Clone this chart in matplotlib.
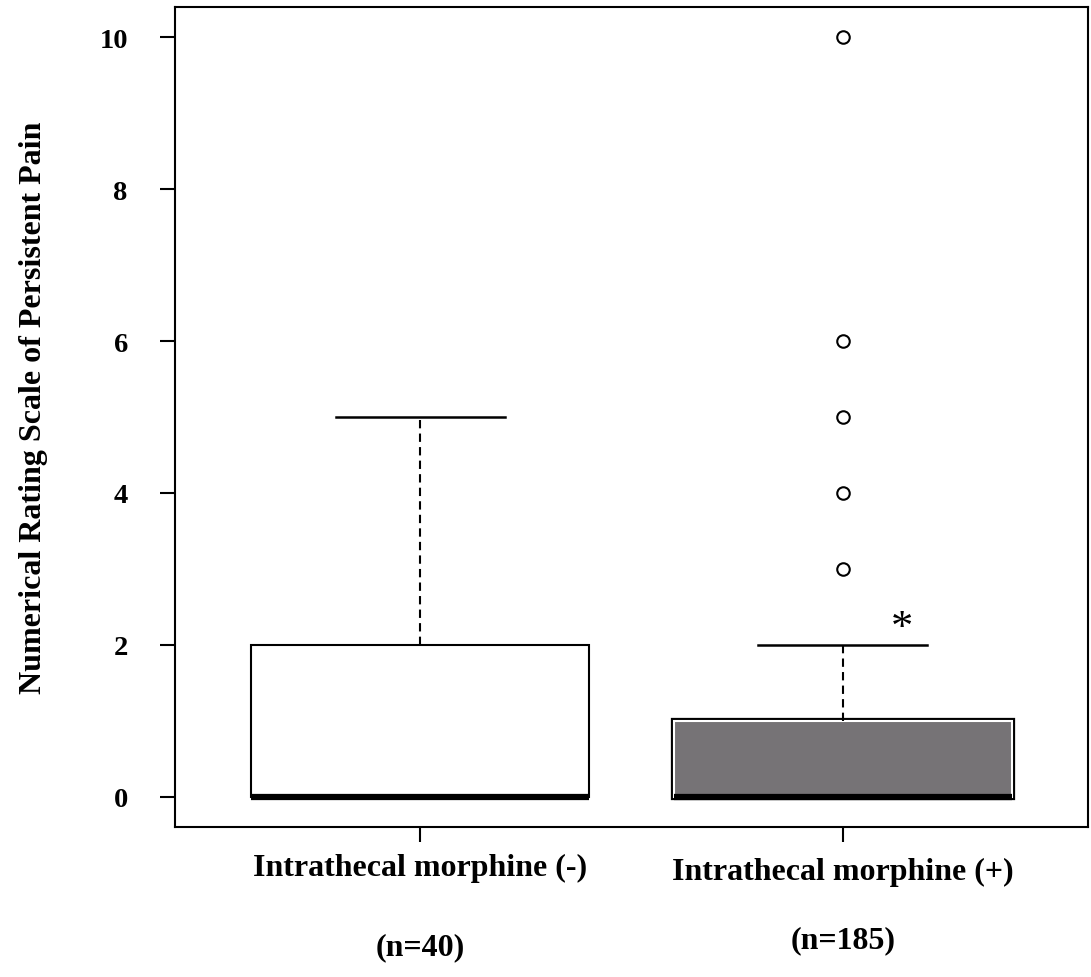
import numpy as np
import matplotlib.pyplot as plt
import matplotlib.patheffects as pe

plt.rcParams['font.family'] = ['Liberation Serif', 'DejaVu Serif']
plt.rcParams['font.weight'] = 'bold'

# Data
groups = ['Intrathecal morphine (-)', 'Intrathecal morphine (+)']
n_labels = ['(n=40)', '(n=185)']
q1 = [0, 0]
med = [0, 0]
q3 = [2, 1]
whis_lo = [0, 0]
whis_hi = [5, 2]
fliers = [[], [3, 4, 5, 6, 10]]
box_colors = ['white', '#767376']
y_ticks = [0, 2, 4, 6, 8, 10]
star_pos = (2.14, 2.22)

fig = plt.figure(figsize=(10.91, 9.78), dpi=100)
ax = fig.add_axes([175 / 1091, 1 - 828 / 978, 913 / 1091, 820 / 978])

stats = []
for i in range(len(groups)):
    stats.append({'med': med[i], 'q1': q1[i], 'q3': q3[i],
                  'whislo': whis_lo[i], 'whishi': whis_hi[i],
                  'fliers': np.array(fliers[i])})

bp = ax.bxp(stats, positions=[1, 2], widths=0.8, patch_artist=True,
            capwidths=0.4,
            boxprops=dict(linewidth=1.5, edgecolor='black'),
            medianprops=dict(color='black', linewidth=4.5, solid_capstyle='butt'),
            whiskerprops=dict(color='black', linewidth=1.5, linestyle=(0, (4, 2.5))),
            capprops=dict(color='black', linewidth=1.8),
            flierprops=dict(marker='o', markersize=9, markerfacecolor='white',
                            markeredgecolor='black', markeredgewidth=1.5))

for patch, c in zip(bp['boxes'], box_colors):
    patch.set_facecolor(c)
# grey box: black outline with a thin white inner line
bp['boxes'][1].set_edgecolor('white')
bp['boxes'][1].set_linewidth(1.5)
bp['boxes'][1].set_path_effects([pe.Stroke(linewidth=4.5, foreground='black'), pe.Normal()])

ax.set_xlim(0.42, 2.58)
ax.set_ylim(-0.4, 10.4)
ax.set_yticks(y_ticks)
ax.set_yticklabels([str(v) for v in y_ticks], fontsize=20.5, fontweight='bold')
ax.set_xticks([1, 2])
ax.set_xticklabels(['', ''])
ax.tick_params(axis='both', length=11, width=1.5, direction='out')
ax.tick_params(axis='y', pad=23)
for s in ax.spines.values():
    s.set_linewidth(1.5)

trans = ax.get_xaxis_transform()
ax.text(1.0, -0.049, groups[0], transform=trans, ha='center', va='center',
        fontsize=23, fontweight='bold')
ax.text(2.0, -0.054, groups[1], transform=trans, ha='center', va='center',
        fontsize=23, fontweight='bold')
ax.text(1.0, -0.146, n_labels[0], transform=trans, ha='center', va='center',
        fontsize=23, fontweight='bold')
ax.text(2.0, -0.137, n_labels[1], transform=trans, ha='center', va='center',
        fontsize=23, fontweight='bold')

ax.text(star_pos[0], star_pos[1], '*', ha='center', va='center',
        fontsize=32, fontweight='normal')

ax.text(-0.155, 0.512, 'Numerical Rating Scale of Persistent Pain',
        transform=ax.transAxes, rotation=90, ha='center', va='center',
        fontsize=23, fontweight='bold')

fig.savefig('out.png', dpi=100)
